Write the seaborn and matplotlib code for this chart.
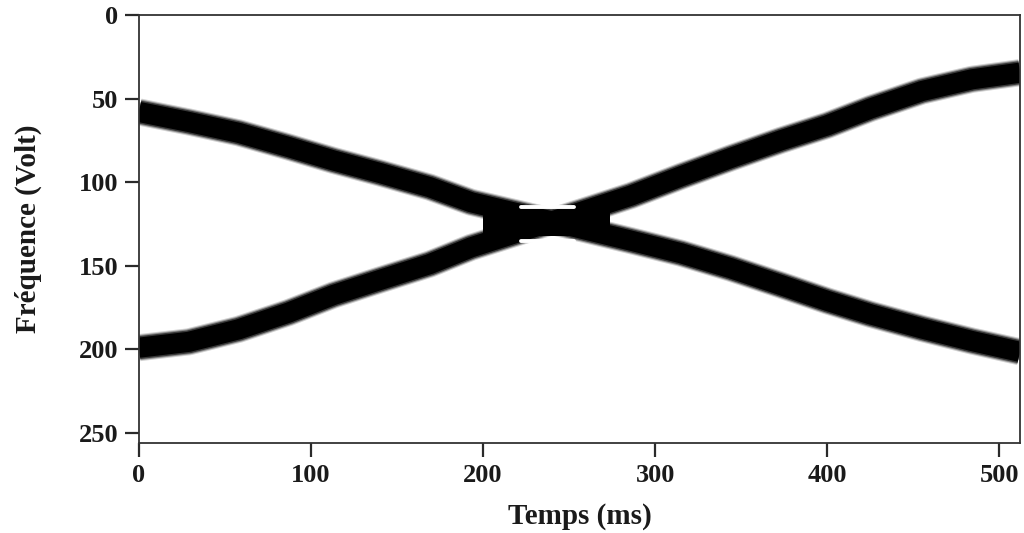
import numpy as np
import pandas as pd
import seaborn as sns
import matplotlib.pyplot as plt
from matplotlib.ticker import FixedLocator

# Ridge of the two crossing components (time in ms, frequency)
time_a = [0, 29, 58, 87, 113, 140, 169, 193, 240, 286, 315, 344, 373, 400, 425, 455, 484, 512]
freq_a = [58, 64, 70.5, 79, 87, 94.5, 103, 112, 123.5, 135, 142.5, 151.5, 161.5, 171, 179, 187.5, 195, 201.5]
time_b = [0, 29, 58, 87, 113, 140, 169, 193, 240, 286, 315, 344, 373, 400, 425, 455, 484, 512]
freq_b = [199, 195.5, 188, 178, 167.5, 158.5, 149, 139, 123.5, 108, 96.5, 85.5, 75, 66, 56, 45.5, 38.5, 34.5]

# Interference zone around the crossing
cross_time = [200, 274]
cross_freq_low = [117, 117]
cross_freq_high = [132, 132]
fringe_time = [222, 253]
fringe_top = [115, 115]
fringe_bottom = [135, 135]

xticks = [0, 100, 200, 300, 400, 500]
yticks = [0, 50, 100, 150, 200, 250]

sns.set_theme(style="ticks")
plt.rcParams['font.family'] = ['Liberation Serif', 'DejaVu Serif']

df = pd.concat([
    pd.DataFrame({"t": time_a, "f": freq_a, "comp": "a"}),
    pd.DataFrame({"t": time_b, "f": freq_b, "comp": "b"}),
])

fig = plt.figure(figsize=(10.24, 5.33), dpi=100)
ax = fig.add_axes([0.1357, 0.1689, 0.8604, 0.803])

layers = [(19.5, "#d0d0d0"), (18, "#8a8a8a"), (16.5, "#3a3a3a"), (14.5, "#000000")]
for lw, col in layers:
    for comp in ["a", "b"]:
        sub = df[df["comp"] == comp]
        sns.lineplot(data=sub, x="t", y="f", ax=ax, color=col, linewidth=lw,
                     estimator=None, sort=False, legend=False,
                     solid_capstyle="butt", solid_joinstyle="round")

ax.fill_between(cross_time, cross_freq_low, cross_freq_high, color="black", zorder=5, linewidth=0)
ax.plot(fringe_time, fringe_top, color="white", linewidth=2.8, zorder=6, solid_capstyle="round")
ax.plot(fringe_time, fringe_bottom, color="white", linewidth=2.8, zorder=6, solid_capstyle="round")

ax.set_xlim(0, 512)
ax.set_ylim(256, 0)
ax.xaxis.set_major_locator(FixedLocator(xticks))
ax.yaxis.set_major_locator(FixedLocator(yticks))
ax.set_xticklabels([str(v) for v in xticks])
ax.set_yticklabels([str(v) for v in yticks])
ax.tick_params(axis="both", which="major", direction="out", length=10, width=1.6,
               color="#2a2a2a", labelsize=19, pad=5, bottom=True, left=True,
               top=False, right=False)
for tick in ax.xaxis.get_major_ticks() + ax.yaxis.get_major_ticks():
    tick.tick1line.set_visible(True)
    tick.tick1line.set_markersize(10)
    tick.tick1line.set_markeredgewidth(1.6)
    tick.tick1line.set_markeredgecolor("#2a2a2a")
for lab in ax.get_xticklabels() + ax.get_yticklabels():
    lab.set_fontweight("bold")
    lab.set_color("#1a1a1a")
for sp in ax.spines.values():
    sp.set_visible(True)
    sp.set_color("#333333")
    sp.set_linewidth(1.3)

ax.set_xlabel("Temps (ms)", fontsize=21, fontweight="bold", labelpad=12, color="#1a1a1a")
ax.set_ylabel("Fréquence (Volt)", fontsize=21, fontweight="bold", labelpad=26, color="#1a1a1a")
ax.grid(False)

fig.savefig("out.png", dpi=100)
